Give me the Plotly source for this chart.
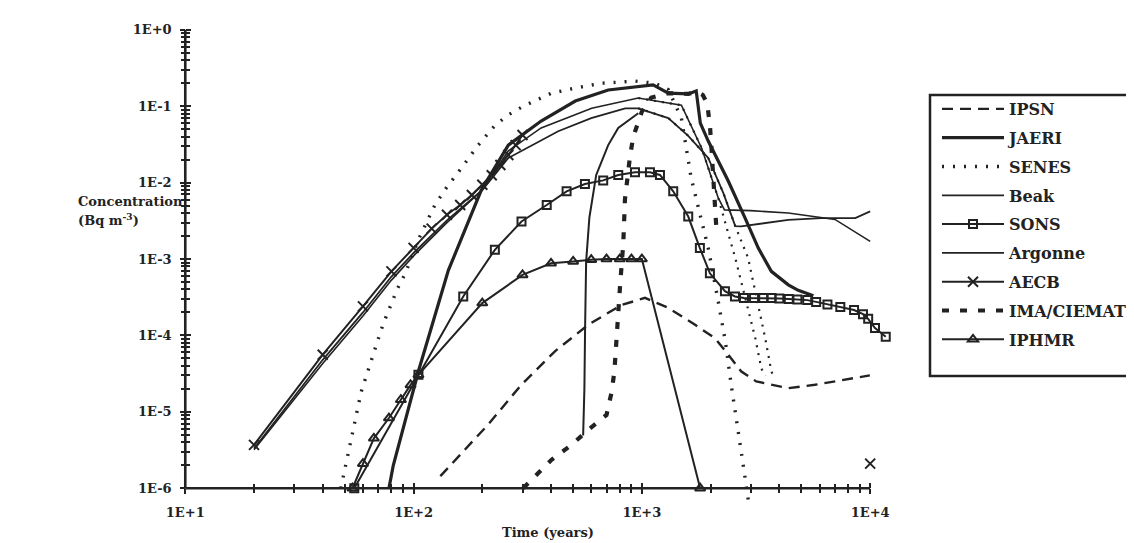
import plotly.graph_objects as go

INK = "#222222"

# ---------------- data (time in years, concentration in Bq m-3) ----------------
ipsn_t = [131, 152, 212, 296, 416, 582, 813, 1032, 1303, 1710, 2090, 2390, 2720, 3170, 4380, 5730, 7460, 9970]
ipsn_c = [1.44e-6, 2.35e-6, 6.8e-6, 2.25e-5, 6.2e-5, 1.38e-4, 2.5e-4, 3.1e-4, 2.3e-4, 1.38e-4,
          9.2e-5, 5.6e-5, 3.4e-5, 2.5e-5, 2.04e-5, 2.26e-5, 2.6e-5, 3.0e-5]

jaeri_t = [78, 81.5, 105, 142, 198, 260, 362, 511, 712, 1120, 1305, 1596, 1730, 1803, 1953, 2390,
           2836, 3236, 3690, 4380, 4840, 5640]
jaeri_c = [1e-6, 2e-6, 3.4e-5, 7.1e-4, 8e-3, 3.1e-2, 6.4e-2, 0.117, 0.163, 0.19, 0.148, 0.145, 0.158,
           6e-2, 3.5e-2, 1.05e-2, 3.4e-3, 1.39e-3, 6.9e-4, 4.6e-4, 3.9e-4, 3.3e-4]

senes_t = [48, 59, 73.5, 85, 92, 105, 124, 139, 162, 192, 227, 260, 302, 401, 511, 665, 935, 1140,
           1305, 1490, 1644, 1953, 2160, 2320, 2465, 2590, 2780, 2950]
senes_c = [1e-6, 1.85e-5, 1.4e-4, 4.1e-4, 6.5e-4, 1.8e-3, 5.1e-3, 8.5e-3, 1.55e-2, 3.1e-2, 5.6e-2,
           7.7e-2, 0.1, 0.148, 0.173, 0.2, 0.213, 0.2, 0.165, 0.07, 1.15e-2, 1.39e-3, 2.8e-4, 8.4e-5,
           2.2e-5, 7.6e-6, 2e-6, 5.9e-7]
# further SENES-style dotted curves (no own legend entry)
senes2_t = [964, 1490, 1830, 2160, 2565, 3140, 3335, 3470]
senes2_c = [0.128, 0.103, 2.8e-2, 6.3e-3, 1.03e-3, 9.2e-5, 3.7e-5, 2.95e-5]
senes3_t = [964, 1305, 1596, 1953, 2275, 2565, 2920, 3470, 3690, 3800]
senes3_c = [9.4e-2, 7e-2, 4.1e-2, 2.1e-2, 7.3e-3, 2.7e-3, 1.03e-3, 9.2e-5, 3.4e-5, 2.75e-5]

beak_t = [20, 40, 60, 80, 100, 140, 200, 260, 430, 600, 845, 964, 1305, 1596, 1953, 2275, 2565, 2720,
          4380, 6110, 8600, 10000]
beak_c = [3.3e-6, 4.8e-5, 2.0e-4, 5.9e-4, 1.2e-3, 3.2e-3, 8.0e-3, 2.1e-2, 4.7e-2, 7.0e-2, 9.4e-2,
          9.4e-2, 7.0e-2, 4.1e-2, 2.1e-2, 7.3e-3, 2.7e-3, 2.67e-3, 3.26e-3, 3.43e-3, 3.43e-3, 4.2e-3]

sons_t = [55, 105, 165, 227, 297, 383, 468, 563, 677, 788, 933, 1085, 1200, 1372, 1596, 1795, 1986,
          2311, 2557, 2800, 3100, 3400, 3700, 4000, 4400, 4800, 5300, 5800, 6500, 7400, 8500, 9300,
          9800, 10500, 11700]
sons_c = [1e-6, 3.05e-5, 3.24e-4, 1.32e-3, 3.1e-3, 5.1e-3, 7.7e-3, 9.6e-3, 1.07e-2, 1.26e-2, 1.37e-2,
          1.37e-2, 1.26e-2, 7.7e-3, 3.6e-3, 1.39e-3, 6.5e-4, 3.8e-4, 3.24e-4, 3.1e-4, 3.1e-4, 3.1e-4,
          3.1e-4, 3.05e-4, 3.0e-4, 2.95e-4, 2.9e-4, 2.75e-4, 2.55e-4, 2.35e-4, 2.15e-4, 1.9e-4,
          1.65e-4, 1.25e-4, 9.6e-5]

argonne_t = [20, 40, 60, 80, 100, 140, 200, 260, 362, 603, 964, 1490, 1830, 2160, 2300, 3000, 4380,
             5730, 7010, 10000]
argonne_c = [3.2e-6, 4.3e-5, 1.8e-4, 5.3e-4, 1.1e-3, 3.0e-3, 8.0e-3, 2.6e-2, 5.2e-2, 9.4e-2, 0.128,
             0.103, 2.8e-2, 6.3e-3, 4.4e-3, 4.3e-3, 4.0e-3, 3.6e-3, 3.3e-3, 1.7e-3]
# steep solid rise near 550-1000 years (no own legend entry)
rise_t = [553, 560, 564, 570, 589, 631, 712, 788, 964]
rise_c = [4.9e-6, 2.0e-5, 1.25e-4, 9.3e-4, 3.5e-3, 1.26e-2, 3.1e-2, 5.2e-2, 8.1e-2]

aecb_t = [20, 40, 60, 80, 100, 120, 140, 160, 180, 200, 220, 240, 260, 280, 300, 5000, 10000]
aecb_c = [3.7e-6, 5.6e-5, 2.4e-4, 6.9e-4, 1.4e-3, 2.5e-3, 3.8e-3, 5.1e-3, 6.9e-3, 9.4e-3, 1.25e-2,
          1.7e-2, 2.3e-2, 3.1e-2, 4.2e-2, None, 2.1e-6]

ima_t = [302, 402, 492, 582, 700, 738, 758, 777, 803, 829, 843, 887, 917, 1000, 1100, 1305, 1596,
         1730, 1850, 1930, 1986, 2014, 2120]
ima_c = [1e-6, 2.36e-6, 3.7e-6, 5.8e-6, 9.1e-6, 1.85e-5, 3.4e-5, 1.25e-4, 4.6e-4, 1.6e-3, 6e-3,
         2.2e-2, 4e-2, 8.5e-2, 0.13, 0.148, 0.145, 0.155, 0.14, 0.11, 5.7e-2, 3.1e-2, 2.5e-3]

iphmr_t = [54, 60, 67, 78, 88, 97, 105, 200, 300, 400, 500, 600, 700, 800, 900, 1000, 1800]
iphmr_c = [1e-6, 2.1e-6, 4.5e-6, 8.3e-6, 1.44e-5, 2.25e-5, 3.05e-5, 2.65e-4, 6.2e-4, 8.8e-4, 9.3e-4,
           9.8e-4, 1.0e-3, 1.0e-3, 1.0e-3, 1.0e-3, 1.0e-6]

x_ticks = [10, 100, 1000, 10000]
x_ticktext = ["1E+1", "1E+2", "1E+3", "1E+4"]
y_ticks = [1e-6, 1e-5, 1e-4, 1e-3, 1e-2, 1e-1, 1]
y_ticktext = ["1E-6", "1E-5", "1E-4", "1E-3", "1E-2", "1E-1", "1E+0"]
x_minor = [k * 10 ** e for e in (1, 2, 3) for k in range(2, 10)]
y_minor = [k * 10.0 ** e for e in range(-6, 0) for k in range(2, 10)]

# ---------------- figure ----------------
W, H = 1134, 543
L, R, T, B = 175, 249, 18, 36
XR = [0.99, 4.1]
YR = [-6.35, 0.05]
pw, ph = W - L - R, H - T - B


def px(xp):
    return (xp - L) / pw


def py(yp):
    return (H - B - yp) / ph


fig = go.Figure()


def add(name, t, c, width, dash="solid", symbol=None, msize=9, legend=True, rank=None):
    tr = go.Scatter(
        x=t, y=c, name=name,
        mode="lines+markers" if symbol else "lines",
        line=dict(color=INK, width=width, dash=dash),
        showlegend=legend, legendgroup=name, hoverinfo="skip",
    )
    if symbol:
        tr.marker = dict(symbol=symbol, size=msize, color=INK, line=dict(color=INK, width=2))
    if rank is not None:
        tr.legendrank = rank
    fig.add_trace(tr)


DOTS = "2px,9px"
add("SENES-b", senes2_t, senes2_c, 2.2, dash="2px,6px", legend=False)
add("SENES-c", senes3_t, senes3_c, 2.2, dash="2px,6px", legend=False)
add("rise", rise_t, rise_c, 2.0, legend=False)
add("IPSN", ipsn_t, ipsn_c, 2.4, dash="11px,7px", rank=1)
add("JAERI", jaeri_t, jaeri_c, 3.2, rank=2)
add("SENES", senes_t, senes_c, 3.4, dash=DOTS, rank=3)
add("Beak", beak_t, beak_c, 1.8, rank=4)
add("SONS", sons_t, sons_c, 2.0, symbol="square-open", msize=8, rank=5)
add("Argonne", argonne_t, argonne_c, 1.6, rank=6)
add("AECB", aecb_t, aecb_c, 2.0, symbol="x-thin", msize=10, rank=7)
add("IMA/CIEMAT", ima_t, ima_c, 4.2, dash="7px,11px", rank=8)
add("IPHMR", iphmr_t, iphmr_c, 2.0, symbol="triangle-up-open", msize=9, rank=9)

# axis lines (from 1E+1 to 1E+4 and from 1E-6 to 1E+0)
fig.add_trace(go.Scatter(x=[x_ticks[0], x_ticks[-1]], y=[y_ticks[0], y_ticks[0]], mode="lines",
                         line=dict(color=INK, width=2.6), showlegend=False, hoverinfo="skip"))
fig.add_trace(go.Scatter(x=[x_ticks[0], x_ticks[0]], y=[y_ticks[0], y_ticks[-1]], mode="lines",
                         line=dict(color=INK, width=2.6), showlegend=False, hoverinfo="skip"))
# invisible helper so the overlay axes (inner half of the crossing ticks) are drawn
fig.add_trace(go.Scatter(x=[x_ticks[0]], y=[y_ticks[0]], xaxis="x2", yaxis="y2", mode="markers",
                         marker=dict(opacity=0), showlegend=False, hoverinfo="skip"))

xpos = (-6 - YR[0]) / (YR[1] - YR[0])
ypos = (1 - XR[0]) / (XR[1] - XR[0])
tickfont = dict(family="DejaVu Serif", size=13, color=INK, weight="bold")

common_x = dict(type="log", range=XR, showgrid=False, zeroline=False, showline=False,
                tickvals=x_ticks, ticklen=5, tickwidth=2, tickcolor=INK,
                anchor="free", position=xpos)
common_y = dict(type="log", range=YR, showgrid=False, zeroline=False, showline=False,
                tickvals=y_ticks, ticklen=5, tickwidth=2, tickcolor=INK,
                anchor="free", position=ypos)

fig.update_layout(
    width=W, height=H,
    margin=dict(l=L, r=R, t=T, b=B, autoexpand=False),
    paper_bgcolor="white", plot_bgcolor="white",
    hovermode=False,
    xaxis=dict(**common_x, ticks="outside", ticktext=x_ticktext, tickfont=tickfont,
               ticklabelstandoff=7,
               minor=dict(tickvals=x_minor, ticks="outside", ticklen=4, tickwidth=1.5, tickcolor=INK)),
    yaxis=dict(**common_y, ticks="outside", ticktext=y_ticktext, tickfont=tickfont,
               ticklabelstandoff=6,
               minor=dict(tickvals=y_minor, ticks="outside", ticklen=4, tickwidth=1.5, tickcolor=INK)),
    xaxis2=dict(**common_x, overlaying="x", ticks="inside", showticklabels=False,
                minor=dict(tickvals=x_minor, ticks="inside", ticklen=4, tickwidth=1.5, tickcolor=INK)),
    yaxis2=dict(**common_y, overlaying="y", ticks="inside", showticklabels=False,
                minor=dict(tickvals=y_minor, ticks="inside", ticklen=4, tickwidth=1.5, tickcolor=INK)),
    legend=dict(
        x=px(929), y=py(84), xanchor="left", yanchor="top",
        borderwidth=0, bgcolor="rgba(0,0,0,0)",
        font=dict(family="DejaVu Serif", size=16, color=INK, weight="bold"),
        itemwidth=62, traceorder="grouped", tracegroupgap=5,
        itemclick=False, itemdoubleclick=False,
    ),
    shapes=[
        # legend frame (its right side runs off the picture, as in the original)
        dict(type="rect", xref="paper", yref="paper", x0=px(922), x1=px(1150), y0=py(368), y1=py(87),
             line=dict(color=INK, width=2.5), fillcolor="rgba(0,0,0,0)", layer="below"),
    ],
    annotations=[
        dict(text="Concentration", x=px(68), y=py(193), xref="paper", yref="paper",
             showarrow=False, font=dict(family="DejaVu Serif", size=13, color=INK, weight="bold")),
        dict(text="(Bq m<sup>-3</sup>)", x=px(68), y=py(211), xref="paper", yref="paper",
             showarrow=False, font=dict(family="DejaVu Serif", size=13, color=INK, weight="bold")),
        dict(text="Time (years)", x=px(540), y=py(534), xref="paper", yref="paper",
             showarrow=False, font=dict(family="DejaVu Serif", size=13, color=INK, weight="bold")),
    ],
)

fig.write_html("out.html", config={"displayModeBar": False})
